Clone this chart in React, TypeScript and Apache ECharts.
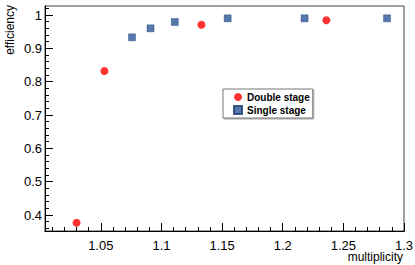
import React, { useEffect, useRef } from "react";
import * as echarts from "echarts";

const doubleStage: [number, number][] = [
  [1.03, 0.377],
  [1.053, 0.832],
  [1.133, 0.971],
  [1.236, 0.984],
];
const singleStage: [number, number][] = [
  [1.0757, 0.933],
  [1.091, 0.96],
  [1.111, 0.979],
  [1.1546, 0.99],
  [1.218, 0.99],
  [1.286, 0.99],
];
const xMajor = [1.05, 1.1, 1.15, 1.2, 1.25, 1.3];
const xMinor = [
  1.01, 1.02, 1.03, 1.04, 1.06, 1.07, 1.08, 1.09, 1.11, 1.12, 1.13, 1.14, 1.16, 1.17, 1.18, 1.19,
  1.21, 1.22, 1.23, 1.24, 1.26, 1.27, 1.28, 1.29,
];
const yMajor = [0.4, 0.5, 0.6, 0.7, 0.8, 0.9, 1.0];
const yMinor = [
  0.36, 0.38, 0.42, 0.44, 0.46, 0.48, 0.52, 0.54, 0.56, 0.58, 0.62, 0.64, 0.66, 0.68, 0.72, 0.74,
  0.76, 0.78, 0.82, 0.84, 0.86, 0.88, 0.92, 0.94, 0.96, 0.98, 1.02,
];
const xTitle = "multiplicity";
const yTitle = "efficiency";

const X_MIN = 1.004;
const X_MAX = 1.3;
const Y_MIN = 0.352;
const Y_MAX = 1.027;

export default function App() {
  const ref = useRef<HTMLDivElement>(null);
  useEffect(() => {
    if (!ref.current) return;
    const chart = echarts.init(ref.current, undefined, { renderer: "svg" });
    const font = "Liberation Sans, Arial, Helvetica, sans-serif";
    const baseX = {
      type: "value",
      min: X_MIN,
      max: X_MAX,
      position: "bottom",
      offset: 0,
      splitLine: { show: false },
      axisLine: { show: true, lineStyle: { color: "#000", width: 1 } },
    };
    const baseY = {
      type: "value",
      min: Y_MIN,
      max: Y_MAX,
      position: "left",
      offset: 0,
      splitLine: { show: false },
      axisLine: { show: true, lineStyle: { color: "#000", width: 1 } },
    };
    chart.setOption({
      animation: false,
      backgroundColor: "#fff",
      grid: {
        left: 45,
        right: 11,
        top: 6,
        bottom: 34,
        containLabel: false,
        outerBoundsMode: "none",
        show: true,
        borderColor: "#444",
        borderWidth: 1,
      },
      graphic: [
        {
          type: "text",
          x: 403,
          y: 257,
          style: {
            text: xTitle,
            fontFamily: font,
            fontSize: 12,
            fill: "#000",
            align: "right",
            verticalAlign: "middle",
          },
        },
        {
          type: "text",
          x: 10,
          y: 5,
          rotation: Math.PI / 2,
          style: {
            text: yTitle,
            fontFamily: font,
            fontSize: 12,
            fill: "#000",
            align: "right",
            verticalAlign: "middle",
          },
        },
      ],
      xAxis: [
        {
          ...baseX,
          axisTick: {
            show: true,
            inside: true,
            length: 8,
            customValues: xMajor,
            lineStyle: { color: "#000" },
          },
          axisLabel: {
            show: true,
            customValues: xMajor,
            fontFamily: font,
            fontSize: 13,
            color: "#000",
            margin: 8,
            formatter: (v: number) => String(Number(v.toFixed(2))),
          },
        },
        {
          ...baseX,
          axisTick: {
            show: true,
            inside: true,
            length: 4,
            customValues: xMinor,
            lineStyle: { color: "#000" },
          },
          axisLabel: {
            show: true,
            customValues: xMinor,
            color: "rgba(0,0,0,0)",
            formatter: () => "",
          },
        },
      ],
      yAxis: [
        {
          ...baseY,
          axisTick: {
            show: true,
            inside: true,
            length: 8,
            customValues: yMajor,
            lineStyle: { color: "#000" },
          },
          axisLabel: {
            show: true,
            customValues: yMajor,
            fontFamily: font,
            fontSize: 13,
            color: "#000",
            margin: 3,
            formatter: (v: number) => String(Number(v.toFixed(2))),
          },
        },
        {
          ...baseY,
          axisTick: {
            show: true,
            inside: true,
            length: 4,
            customValues: yMinor,
            lineStyle: { color: "#000" },
          },
          axisLabel: {
            show: true,
            customValues: yMinor,
            color: "rgba(0,0,0,0)",
            formatter: () => "",
          },
        },
      ],
      legend: {
        orient: "vertical",
        left: 223,
        top: 89,
        padding: [3, 3, 3, 10],
        itemGap: 3,
        itemWidth: 8,
        itemHeight: 8,
        borderColor: "#777",
        borderWidth: 1,
        backgroundColor: "#fff",
        shadowColor: "rgba(0,0,0,0.35)",
        shadowOffsetX: 1,
        shadowOffsetY: 1,
        shadowBlur: 1,
        textStyle: { fontFamily: font, fontSize: 10, fontWeight: "bold", color: "#000", padding: [0, 0, 0, 0] },
        data: [
          { name: "Double stage", icon: "circle" },
          { name: "Single stage", icon: "rect" },
        ],
      },
      series: [
        {
          name: "Double stage",
          type: "scatter",
          data: doubleStage,
          symbol: "circle",
          symbolSize: 8,
          itemStyle: { color: "#ff0000" },
        },
        {
          name: "Single stage",
          type: "scatter",
          data: singleStage,
          symbol: "rect",
          symbolSize: 7,
          itemStyle: { color: "#2b5797", borderColor: "#1a3a6e", borderWidth: 0.5 },
        },
      ],
    });
    return () => chart.dispose();
  }, []);
  return <div ref={ref} style={{ width: 415, height: 265, position: "absolute", left: 0, top: 0 }} />;
}
